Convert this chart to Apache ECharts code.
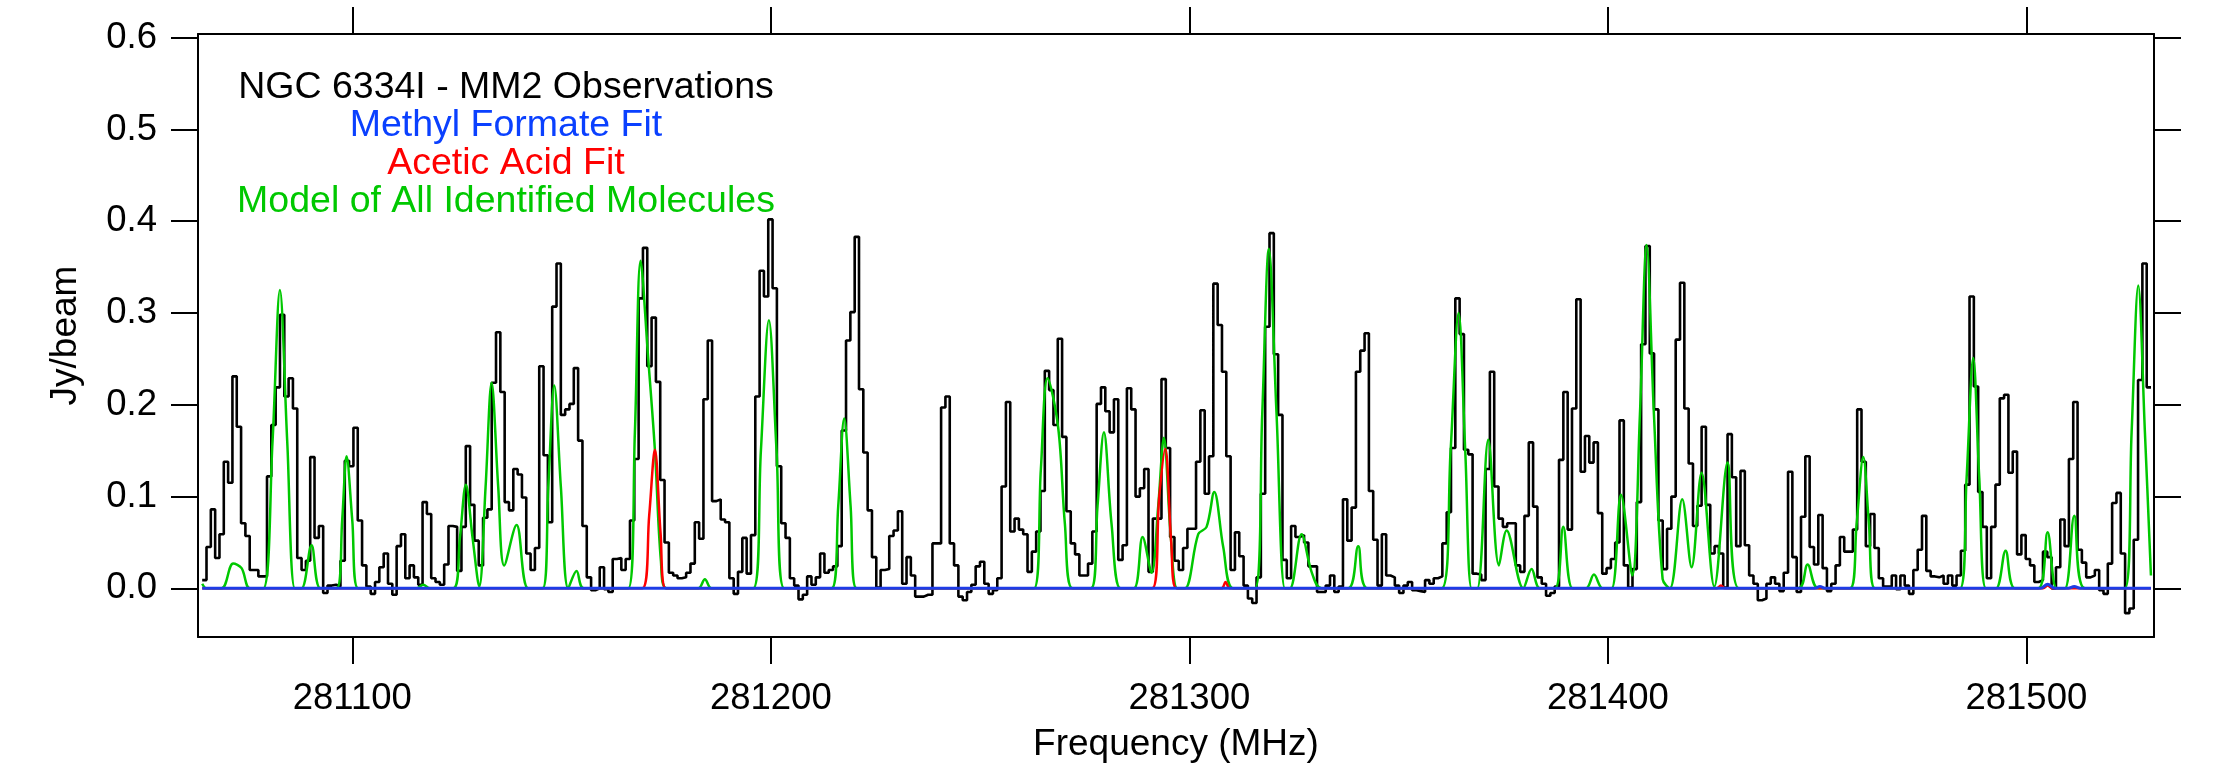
<!DOCTYPE html>
<html>
<head>
<meta charset="utf-8">
<title>NGC 6334I - MM2 Observations</title>
<script src="https://cdn.jsdelivr.net/npm/echarts@6/dist/echarts.min.js"></script>
<style>
  html, body { margin: 0; padding: 0; background: #fff; }
  #chart { width: 2237px; height: 768px; }
</style>
</head>
<body>
<div id="chart"></div>
<script>
// observed spectrum: one value per channel (Jy/beam), channels of equal width
var chanStart = 281064.13 // MHz, left edge of first channel
var chanWidth = 1.0325    // MHz
var observed = [
  0.009, 0.045, 0.086, 0.033, 0.059, 0.138, 0.115, 0.231, 0.176, 0.071,
  0.057, 0.020, 0.020, 0.013, 0.013, 0.122, 0.178, 0.219, 0.298, 0.209,
  0.229, 0.196, 0.033, 0.020, 0.030, 0.143, 0.055, 0.068, -0.005, 0.003,
  0.004, 0.002, 0.030, 0.139, 0.133, 0.175, 0.074, 0.025, 0.002, -0.006,
  0.007, 0.023, 0.038, 0.005, -0.007, 0.046, 0.059, 0.011, 0.025, 0.012,
  0.004, 0.094, 0.081, 0.011, 0.007, 0.004, 0.026, 0.068, 0.067, 0.019,
  0.067, 0.155, 0.091, 0.052, 0.025, 0.077, 0.086, 0.224, 0.279, 0.214,
  0.094, 0.085, 0.130, 0.124, 0.099, 0.038, 0.020, 0.044, 0.242, 0.145,
  0.072, 0.307, 0.354, 0.189, 0.195, 0.201, 0.240, 0.161, 0.068, 0.012,
  -0.002, 0.000, 0.023, -0.001, -0.004, 0.032, 0.033, 0.020, 0.032, 0.074,
  0.141, 0.316, 0.371, 0.242, 0.295, 0.225, 0.118, 0.050, 0.017, 0.014,
  0.011, 0.012, 0.017, 0.027, 0.072, 0.054, 0.206, 0.270, 0.095, 0.097,
  0.075, 0.072, 0.011, -0.006, 0.018, 0.055, 0.016, 0.058, 0.209, 0.346,
  0.318, 0.402, 0.327, 0.133, 0.071, 0.055, 0.011, 0.003, -0.012, -0.007,
  0.013, 0.004, 0.012, 0.038, 0.017, 0.020, 0.024, 0.046, 0.172, 0.270,
  0.301, 0.383, 0.217, 0.148, 0.085, 0.034, 0.001, 0.020, 0.021, 0.057,
  0.063, 0.084, 0.005, 0.034, 0.014, -0.009, -0.009, -0.007, -0.007, 0.049,
  0.049, 0.197, 0.209, 0.049, 0.025, -0.009, -0.013, -0.004, 0.004, 0.024,
  0.029, 0.005, -0.006, -0.002, 0.011, 0.111, 0.203, 0.062, 0.076, 0.064,
  0.059, 0.018, 0.040, 0.062, 0.106, 0.237, 0.216, 0.178, 0.272, 0.165,
  0.084, 0.049, 0.037, 0.014, 0.014, 0.027, 0.062, 0.201, 0.219, 0.193,
  0.170, 0.206, 0.031, 0.047, 0.218, 0.195, 0.100, 0.109, 0.130, 0.018,
  0.076, 0.076, 0.228, 0.153, 0.056, 0.030, 0.020, 0.044, 0.065, 0.065,
  0.138, 0.194, 0.103, 0.144, 0.332, 0.287, 0.236, 0.144, 0.020, 0.061,
  0.035, 0.003, -0.011, -0.016, 0.012, 0.103, 0.285, 0.387, 0.255, 0.189,
  0.031, 0.011, 0.068, 0.056, 0.058, 0.050, 0.024, 0.024, -0.004, -0.004,
  0.003, 0.014, -0.004, 0.002, 0.097, 0.052, 0.088, 0.236, 0.259, 0.278,
  0.106, 0.053, 0.003, 0.059, 0.014, 0.012, 0.003, -0.005, 0.003, 0.007,
  -0.002, -0.003, -0.004, 0.009, 0.005, 0.011, 0.013, 0.049, 0.083, 0.153,
  0.316, 0.277, 0.151, 0.146, 0.016, 0.015, 0.009, 0.130, 0.236, 0.111,
  0.076, 0.067, 0.071, 0.071, 0.025, 0.018, 0.079, 0.159, 0.089, 0.012,
  0.005, -0.008, -0.005, 0.002, 0.140, 0.214, 0.064, 0.196, 0.315, 0.127,
  0.166, 0.137, 0.159, 0.082, 0.016, 0.022, 0.032, 0.050, 0.183, 0.025,
  0.001, 0.021, 0.094, 0.266, 0.373, 0.256, 0.195, 0.074, 0.021, 0.065,
  0.100, 0.271, 0.333, 0.196, 0.136, 0.068, 0.090, 0.176, 0.091, 0.038,
  0.046, 0.038, 0.001, 0.168, 0.121, 0.046, 0.128, 0.047, 0.014, 0.005,
  -0.013, -0.011, 0.005, 0.012, 0.005, -0.003, 0.017, 0.127, 0.034, -0.004,
  0.078, 0.144, 0.045, 0.026, 0.080, 0.022, -0.003, 0.005, 0.025, 0.056,
  0.040, 0.040, 0.064, 0.195, 0.138, 0.046, 0.081, 0.044, 0.011, 0.002,
  0.002, 0.014, -0.001, 0.014, 0.003, -0.006, 0.020, 0.042, 0.079, 0.019,
  0.013, 0.012, 0.014, 0.005, 0.014, 0.003, 0.014, 0.041, 0.113, 0.318,
  0.220, 0.105, 0.067, 0.011, 0.067, 0.113, 0.207, 0.211, 0.126, 0.149,
  0.037, 0.058, 0.032, 0.025, 0.007, 0.009, 0.040, 0.034, 0.000, 0.023,
  0.075, 0.046, 0.141, 0.203, 0.042, 0.028, 0.012, 0.014, 0.020, -0.002,
  -0.006, 0.027, 0.093, 0.104, 0.038, -0.027, -0.022, 0.053, 0.227, 0.354,
  0.219
]

// model of all identified molecules: [MHz, Jy/beam]
var modelAll = [
  [281064.14, 0.005], [281065.17, 0], [281068.76, 0], [281071.54, 0.027], [281073.54, 0.022], [281075.53, 0],
  [281078.71, 0], [281080.94, 0.16], [281082.70, 0.325], [281084.45, 0.16], [281086.28, 0],
  [281087.87, 0], [281090.26, 0.047], [281092.41, 0],
  [281096.24, 0], [281097.59, 0.075], [281098.63, 0.144], [281099.98, 0.075], [281101.41, 0],
  [281115.35, 0], [281116.94, 0.004], [281118.54, 0],
  [281124.12, 0], [281125.71, 0.055], [281127.14, 0.113], [281128.74, 0.055], [281130.33, 0.002],
  [281131.84, 0.11], [281133.28, 0.224], [281134.87, 0.11], [281136.30, 0.025], [281139.25, 0.069], [281142.04, 0],
  [281145.46, 0], [281146.82, 0.11], [281148.25, 0.221], [281149.84, 0.11], [281151.59, 0],
  [281153.59, 0.019], [281155.34, 0],
  [281165.93, 0], [281167.52, 0.17], [281168.88, 0.357], [281170.71, 0.25], [281172.30, 0.151], [281173.74, 0.03], [281175.09, 0],
  [281182.66, 0], [281184.25, 0.01], [281185.84, 0],
  [281195.80, 0], [281197.63, 0.15], [281199.54, 0.292], [281201.37, 0.15], [281203.21, 0],
  [281214.52, 0], [281216.11, 0.09], [281217.54, 0.185], [281219.06, 0.09], [281220.49, 0],
  [281262.86, 0], [281264.53, 0.13], [281266.13, 0.229], [281268.67, 0.175], [281270.27, 0.07], [281272.10, 0],
  [281276.48, 0], [281278.07, 0.09], [281279.59, 0.170], [281281.42, 0.07], [281283.57, 0],
  [281286.76, 0], [281288.83, 0.056], [281290.98, 0.017], [281292.57, 0.09], [281293.92, 0.164], [281295.52, 0.06], [281297.11, 0],
  [281298.94, 0], [281302.13, 0.059], [281304.12, 0.067], [281305.95, 0.105], [281308.10, 0.045], [281310.49, 0],
  [281315.67, 0], [281317.42, 0.19], [281319.01, 0.370], [281320.84, 0.19], [281322.83, 0],
  [281324.03, 0], [281326.82, 0.059], [281329.21, 0.018], [281331.60, 0],
  [281337.97, 0], [281340.36, 0.046], [281342.59, 0],
  [281360.28, 0], [281362.43, 0.15], [281364.34, 0.300], [281365.93, 0.15], [281367.45, 0],
  [281368.80, 0], [281371.43, 0.162], [281373.98, 0.025], [281375.81, 0.063], [281379.79, 0],
  [281381.78, 0.021], [281383.77, 0],
  [281387.36, 0], [281389.35, 0.067], [281391.58, 0],
  [281394.77, 0], [281396.68, 0.015], [281398.75, 0],
  [281400.90, 0], [281403.13, 0.102], [281405.84, 0.014], [281407.67, 0.19], [281409.26, 0.374], [281411.01, 0.19], [281413.09, 0.01], [281414.84, 0],
  [281417.78, 0.097], [281420.01, 0.023], [281422.40, 0.126], [281425.43, 0.002], [281428.61, 0.137], [281431.32, 0],
  [281445.50, 0], [281447.73, 0.026], [281450.28, 0],
  [281457.85, 0], [281459.44, 0.07], [281461.03, 0.143], [281462.39, 0.07], [281463.82, 0],
  [281484.13, 0], [281485.72, 0.12], [281487.31, 0.251], [281488.75, 0.12], [281490.34, 0],
  [281492.73, 0], [281495.04, 0.041], [281497.27, 0],
  [281502.84, 0], [281505.08, 0.061], [281507.23, 0],
  [281509.22, 0], [281511.45, 0.079], [281514.00, 0],
  [281523.55, 0], [281525.15, 0.17], [281526.74, 0.330], [281528.33, 0.17], [281529.77, 0.014]
]

// acetic acid fit (red)
var aceticFit = [
  [281064.14, 0], [281169.28, 0], [281170.95, 0.08], [281172.30, 0.151], [281173.66, 0.06], [281174.93, 0],
  [281291.14, 0], [281292.81, 0.10], [281294.24, 0.152], [281295.68, 0.05], [281296.95, 0],
  [281307.70, 0], [281308.66, 0.007], [281309.70, 0],
  [281426.00, 0], [281427.02, 0.003], [281428.00, 0],
  [281504.00, 0], [281505.08, 0.003], [281506.20, 0], [281529.77, 0]
]

// methyl formate fit (blue)
var formateFit = [
  [281064.14, 0], [281449.50, 0], [281450.68, 0.002], [281451.90, 0],
  [281503.40, 0], [281505.08, 0.0045], [281506.80, 0],
  [281510.00, 0], [281511.45, 0.002], [281512.90, 0], [281529.77, 0]
]

var legendLines = ['NGC 6334I - MM2 Observations', 'Methyl Formate Fit', 'Acetic Acid Fit', 'Model of All Identified Molecules']
var legendColors = ['#000000', '#0a40ff', '#ff0000', '#00c800']

var freqTicks = [281100, 281200, 281300, 281400, 281500]
var fluxTicks = [0, 0.1, 0.2, 0.3, 0.4, 0.5, 0.6]

var xMin = 281063.13, xMax = 281530.5
var yMin = -0.053, yMax = 0.604

var font = '"Liberation Sans", Arial, Helvetica, sans-serif'

// histogram points: left edges + closing right edge
var obsPoints = observed.map(function(v, i) { return [chanStart + i * chanWidth, v] })
obsPoints.push([chanStart + observed.length * chanWidth, observed[observed.length - 1]])

var chart = echarts.init(document.getElementById('chart'))

function xAxisCfg(pos, withLabels) {
  return {
    type: 'value', position: pos, min: xMin, max: xMax,
    axisLine: { show: true, onZero: false, lineStyle: { color: '#000', width: 2 } },
    axisTick: { show: true, inside: false, length: 27, customValues: freqTicks, lineStyle: { color: '#000', width: 2 } },
    axisLabel: {
      show: withLabels, customValues: freqTicks, margin: 43, fontSize: 36.5, color: '#000', fontFamily: font,
      formatter: function(v) { return String(v) }
    },
    splitLine: { show: false },
    name: withLabels ? 'Frequency (MHz)' : '',
    nameLocation: 'middle', nameGap: 89,
    nameTextStyle: { fontSize: 37, color: '#000', fontFamily: font }
  }
}

function yAxisCfg(pos, withLabels) {
  return {
    type: 'value', position: pos, min: yMin, max: yMax,
    axisLine: { show: true, onZero: false, lineStyle: { color: '#000', width: 2 } },
    axisTick: { show: true, inside: false, length: 27, customValues: fluxTicks, lineStyle: { color: '#000', width: 2 } },
    axisLabel: {
      show: withLabels, customValues: fluxTicks, margin: 41, fontSize: 36.5, color: '#000', fontFamily: font,
      formatter: function(v) { return v.toFixed(1) }
    },
    splitLine: { show: false },
    name: withLabels ? 'Jy/beam' : '',
    nameLocation: 'middle', nameGap: 114,
    nameTextStyle: { fontSize: 37, color: '#000', fontFamily: font }
  }
}

var option = {
  animation: false,
  backgroundColor: '#fff',
  grid: { left: 198, right: 83, top: 34, bottom: 128, containLabel: false },
  xAxis: [xAxisCfg('bottom', true), xAxisCfg('top', false)],
  yAxis: [yAxisCfg('left', true), yAxisCfg('right', false)],
  graphic: legendLines.map(function(t, i) {
    return {
      type: 'text', x: 506, y: 87.5 + i * 38.2,
      style: { text: t, fill: legendColors[i], font: '37.5px ' + font, textAlign: 'center', textVerticalAlign: 'middle' }
    }
  }),
  series: [
    {
      name: 'Observations', type: 'line', step: 'end', data: obsPoints,
      showSymbol: false, lineStyle: { color: '#000', width: 2.6 }, z: 2
    },
    {
      name: 'Model of All Identified Molecules', type: 'line', data: modelAll, smooth: 0.35,
      showSymbol: false, lineStyle: { color: '#00c800', width: 2.5 }, z: 3
    },
    {
      name: 'Acetic Acid Fit', type: 'line', data: aceticFit, smooth: 0.35,
      showSymbol: false, lineStyle: { color: '#ff0000', width: 2.5 }, z: 4
    },
    {
      name: 'Methyl Formate Fit', type: 'line', data: formateFit, smooth: 0.35,
      showSymbol: false, lineStyle: { color: '#1e3ce6', width: 3 }, z: 5
    }
  ]
}

chart.setOption(option)
</script>
</body>
</html>
